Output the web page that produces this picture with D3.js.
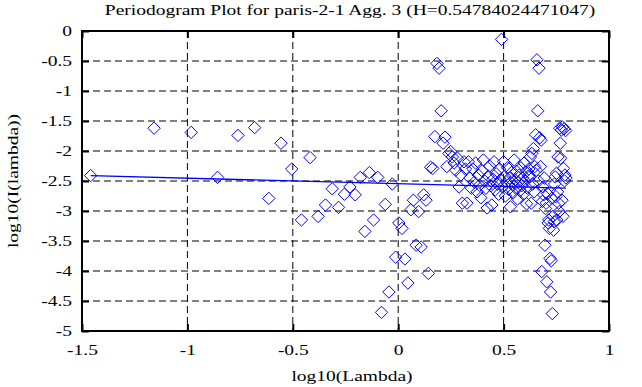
<!DOCTYPE html>
<html>
<head>
<meta charset="utf-8">
<script src="https://cdn.jsdelivr.net/npm/d3@7"></script>
<style>
  body { margin: 0; background: #fff; }
  text { font-family: "Liberation Serif", "Times New Roman", serif; font-size: 15px; fill: #000; }
</style>
</head>
<body>
<svg></svg>
<script>
const width = 642;
const height = 387;
const plotLeft = 82, plotRight = 609, plotTop = 31, plotBottom = 331;
const stretch = 1.3;

const titleText = "Periodogram Plot for paris-2-1 Agg. 3 (H=0.54784024471047)";
const xTicks = [-1.5, -1, -0.5, 0, 0.5, 1];
const yTicks = [0, -0.5, -1, -1.5, -2, -2.5, -3, -3.5, -4, -4.5, -5];

const logLambda = [
  -1.459, -1.158, -0.982, -0.857, -0.760, -0.681, -0.614, -0.556, -0.505, -0.459,
  -0.418, -0.380, -0.345, -0.313, -0.283, -0.255, -0.229, -0.204, -0.180, -0.158,
  -0.137, -0.117, -0.097, -0.079, -0.061, -0.044, -0.028, -0.012, 0.003, 0.018,
  0.032, 0.046, 0.060, 0.072, 0.085, 0.097, 0.109, 0.121, 0.132, 0.143,
  0.154, 0.164, 0.174, 0.184, 0.194, 0.204, 0.213, 0.222, 0.231, 0.240,
  0.249, 0.257, 0.265, 0.273, 0.281, 0.289, 0.297, 0.304, 0.312, 0.319,
  0.326, 0.333, 0.340, 0.347, 0.354, 0.361, 0.367, 0.374, 0.380, 0.386,
  0.392, 0.398, 0.404, 0.410, 0.416, 0.422, 0.427, 0.433, 0.439, 0.444,
  0.449, 0.455, 0.460, 0.465, 0.470, 0.476, 0.481, 0.485, 0.490, 0.495,
  0.500, 0.505, 0.509, 0.514, 0.519, 0.523, 0.528, 0.532, 0.537, 0.541,
  0.545, 0.550, 0.554, 0.558, 0.562, 0.566, 0.570, 0.574, 0.578, 0.582,
  0.586, 0.590, 0.594, 0.598, 0.602, 0.605, 0.609, 0.613, 0.617, 0.620,
  0.624, 0.627, 0.631, 0.634, 0.638, 0.641, 0.645, 0.648, 0.652, 0.655,
  0.658, 0.662, 0.665, 0.668, 0.671, 0.675, 0.678, 0.681, 0.684, 0.687,
  0.690, 0.693, 0.696, 0.699, 0.702, 0.705, 0.708, 0.711, 0.714, 0.717,
  0.720, 0.723, 0.726, 0.729, 0.731, 0.734, 0.737, 0.740, 0.742, 0.745,
  0.748, 0.751, 0.753, 0.756, 0.758, 0.761, 0.764, 0.766, 0.769, 0.771,
  0.774, 0.777, 0.779, 0.782, 0.784, 0.787, 0.789, 0.791, 0.794, 0.796
];
const logI = [
  -2.41, -1.62, -1.69, -2.44, -1.74, -1.61, -2.79, -1.87, -2.30, -3.15,
  -2.11, -3.09, -2.90, -2.63, -2.94, -2.72, -2.60, -2.73, -2.44, -3.34,
  -2.36, -3.15, -2.44, -4.69, -2.89, -4.35, -2.55, -3.77, -3.20, -3.29,
  -3.80, -4.20, -2.98, -2.82, -3.57, -3.01, -3.60, -2.73, -2.82, -4.04,
  -2.27, -2.29, -1.76, -0.54, -0.62, -1.33, -1.87, -1.77, -2.26, -2.04,
  -2.01, -2.10, -2.20, -2.32, -2.12, -2.60, -2.40, -2.87, -2.18, -2.30,
  -2.87, -2.18, -2.45, -2.62, -2.30, -2.52, -2.20, -2.68, -2.40, -2.57,
  -2.78, -2.33, -2.15, -2.50, -2.62, -2.95, -2.42, -2.25, -2.58, -2.90,
  -2.47, -2.18, -2.65, -2.38, -2.55, -2.72, -2.30, -2.48, -0.14, -2.60,
  -2.18, -2.42, -2.75, -2.52, -2.28, -2.64, -2.45, -2.93, -2.36, -2.55,
  -2.70, -2.15, -2.48, -2.62, -2.34, -2.80, -2.52, -2.40, -2.66, -2.28,
  -2.58, -2.45, -2.72, -2.20, -2.50, -2.35, -2.88, -2.62, -2.42, -2.30,
  -2.43, -2.10, -2.87, -2.04, -2.55, -1.96, -2.68, -2.26, -1.73, -2.32,
  -0.48, -1.33, -2.50, -0.62, -1.78, -2.26, -1.82, -4.01, -2.84, -2.60,
  -2.73, -2.45, -3.57, -2.96, -2.87, -4.18, -2.71, -3.20, -3.15, -3.29,
  -3.79, -4.35, -3.83, -2.79, -4.71, -3.09, -3.32, -3.18, -2.55, -2.43,
  -2.76, -2.37, -3.15, -2.68, -2.10, -2.87, -3.01, -1.62, -1.87, -2.12,
  -1.65, -2.82, -1.60, -3.09, -2.29, -1.63, -2.50, -2.40, -1.66, -2.45
];
// fitted line end points
const fitX = [-1.459, 0.796];
const fitY = [-2.41, -2.62];

const points = logLambda.map((x, i) => ({ x: x, y: logI[i] }));

const xScale = d3.scaleLinear().domain([-1.5, 1]).range([plotLeft, plotRight]);
const yScale = d3.scaleLinear().domain([-5, 0]).range([plotBottom, plotTop]);

let svg = d3.select("svg")
    .attr("width", width)
    .attr("height", height);

// dashed grid
svg.append("g")
    .selectAll("line")
    .data(xTicks.slice(1, -1))
    .join("line")
    .attr("x1", d => xScale(d)).attr("x2", d => xScale(d))
    .attr("y1", plotTop).attr("y2", plotBottom)
    .attr("stroke", "#000")
    .attr("stroke-dasharray", "7,4");
svg.append("g")
    .selectAll("line")
    .data(yTicks.slice(1, -1))
    .join("line")
    .attr("x1", plotLeft).attr("x2", plotRight)
    .attr("y1", d => yScale(d)).attr("y2", d => yScale(d))
    .attr("stroke", "#000")
    .attr("stroke-dasharray", "7,4");

// axes, ticks pointing inward
const fmt = d => String(d);
let xAxis = svg.append("g")
    .attr("transform", `translate(0, ${plotBottom})`)
    .call(d3.axisBottom(xScale).tickValues(xTicks).tickFormat(fmt).tickSize(-7).tickSizeOuter(0).tickPadding(13));
let yAxis = svg.append("g")
    .attr("transform", `translate(${plotLeft}, 0)`)
    .call(d3.axisLeft(yScale).tickValues(yTicks).tickFormat(fmt).tickSize(-7).tickSizeOuter(0).tickPadding(10));
svg.append("g")
    .attr("transform", `translate(0, ${plotTop})`)
    .call(d3.axisTop(xScale).tickValues(xTicks).tickFormat("").tickSize(-7).tickSizeOuter(0));
svg.append("g")
    .attr("transform", `translate(${plotRight}, 0)`)
    .call(d3.axisRight(yScale).tickValues(yTicks).tickFormat("").tickSize(-7).tickSizeOuter(0));

svg.selectAll(".domain").remove();
svg.selectAll(".tick line").attr("stroke", "#000").attr("stroke-width", 2);
svg.selectAll(".tick text")
    .style("font-family", "'Liberation Serif', 'Times New Roman', serif")
    .style("font-size", "15px")
    .attr("fill", "#000");
xAxis.selectAll("text").attr("transform", `scale(${stretch},1)`);
yAxis.selectAll("text")
    .attr("x", -10 / stretch)
    .attr("transform", `scale(${stretch},1)`);

// points
svg.append("g")
    .selectAll("path")
    .data(points)
    .join("path")
    .attr("d", d3.symbol(d3.symbolDiamond2, 98)())
    .attr("transform", d => `translate(${xScale(d.x)},${yScale(d.y)})`)
    .attr("fill", "none")
    .attr("stroke", "#0000ff")
    .attr("stroke-width", 1);

// fitted line
svg.append("line")
    .attr("x1", xScale(fitX[0])).attr("y1", yScale(fitY[0]))
    .attr("x2", xScale(fitX[1])).attr("y2", yScale(fitY[1]))
    .attr("stroke", "#0000ff")
    .attr("stroke-width", 1.3);

// frame
svg.append("rect")
    .attr("x", plotLeft).attr("y", plotTop)
    .attr("width", plotRight - plotLeft).attr("height", plotBottom - plotTop)
    .attr("fill", "none")
    .attr("stroke", "#000")
    .attr("stroke-width", 2);

svg.append("text")
    .attr("transform", `translate(350, 15) scale(${stretch},1)`)
    .style("text-anchor", "middle")
    .text(titleText);

svg.append("text")
    .attr("transform", `translate(352, 381) scale(${stretch},1)`)
    .style("text-anchor", "middle")
    .text("log10(Lambda)");

svg.append("text")
    .attr("transform", `translate(18, 181) rotate(-90) scale(${stretch},1)`)
    .style("text-anchor", "middle")
    .text("log10(I(lambda))");
</script>
</body>
</html>
